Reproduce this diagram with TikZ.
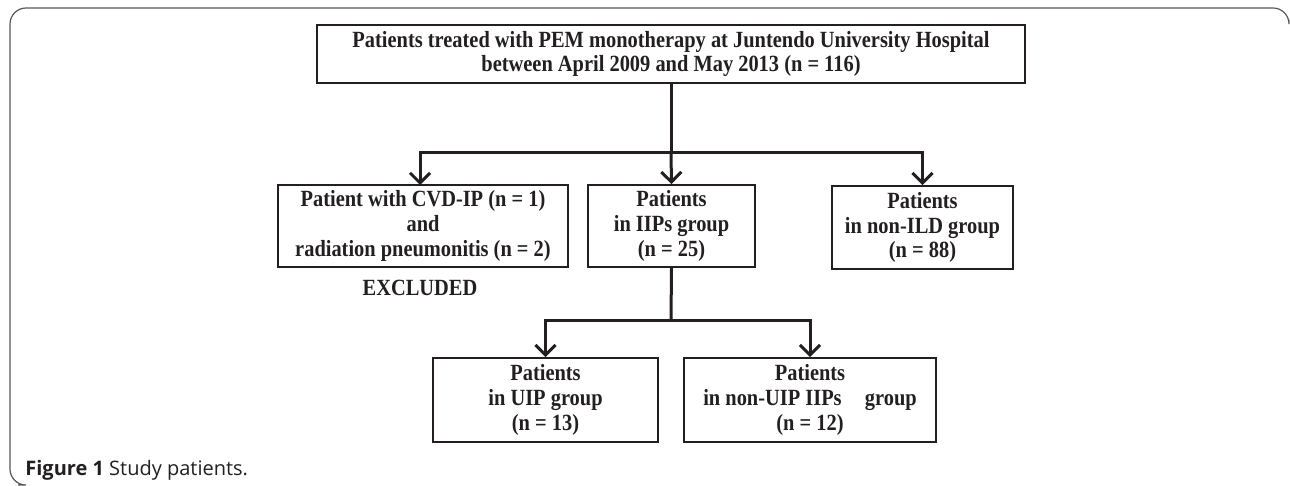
\documentclass[tikz,border=0pt]{standalone}
\usepackage{fontspec}
\setmainfont{Liberation Serif}[FakeStretch=0.88]
\newfontfamily\capfont{Open Sans}
\usetikzlibrary{positioning, arrows.meta}
\usepackage{xcolor}
\definecolor{ink}{HTML}{231F20}

\tikzset{
    box/.style={draw=ink, line width=0.9pt, align=center, inner sep=2pt, text=ink,
        font=\fontsize{11.6}{12.4}\selectfont\bfseries},
    link/.style={draw=ink, line width=1.5pt},
    arr/.style={link, -{Straight Barb[length=5pt, width=10pt, line width=1.5pt]}}
}

\begin{document}
\begin{tikzpicture}[x=0.5pt, y=-0.5pt]
\useasboundingbox (0,0) rectangle (1290,486);

% outer frame
\draw[gray!70!black, line width=0.6pt, rounded corners=8pt] (1289,20) |- (10,8) |- (18,485);

% boxes
\node[box, minimum width=354pt, minimum height=29pt] (top) at (671,54)
    {Patients treated with PEM monotherapy at Juntendo University Hospital\\
     between April 2009 and May 2013 (n = 116)};
\node[box, minimum width=145pt, minimum height=41pt] (excl) at (423,226)
    {Patient with CVD-IP (n = 1)\\ and\\ radiation pneumonitis (n = 2)};
\node[box, minimum width=83.5pt, minimum height=41pt] (iips) at (671.5,226)
    {Patients\\ in IIPs group\\ (n = 25)};
\node[box, minimum width=90.5pt, minimum height=41.5pt] (nonild) at (922.5,227.5)
    {Patients\\ in non-ILD group\\ (n = 88)};
\node[box, minimum width=112.5pt, minimum height=42pt] (uip) at (545.5,400)
    {Patients\\ in UIP group\\ (n = 13)};
\node[box, minimum width=126pt, minimum height=42pt] (nonuip) at (810,400)
    {Patients\\ in non-UIP IIPs\quad group\\ (n = 12)};

\node[text=ink, font=\fontsize{11.6}{12}\selectfont\bfseries] (excluded) at (420,288) {EXCLUDED};

% connectors
\coordinate (split1) at (671,153);
\coordinate (split2) at (671,320);
\draw[link] (top.south) -- (split1);
\draw[arr] (split1) -| (420,185);
\draw[arr] (split1) -- (iips.north);
\draw[arr] (split1) -| (nonild.north);
\draw[link] (iips.south) -- (split2);
\draw[arr] (split2) -| (uip.north);
\draw[arr] (split2) -| (nonuip.north);

% caption
\node[anchor=base west, inner sep=0pt, text=ink, font=\capfont\fontsize{10}{12}\selectfont] (caption) at (25,475)
    {\textbf{Figure 1} Study patients.};
\end{tikzpicture}
\end{document}
